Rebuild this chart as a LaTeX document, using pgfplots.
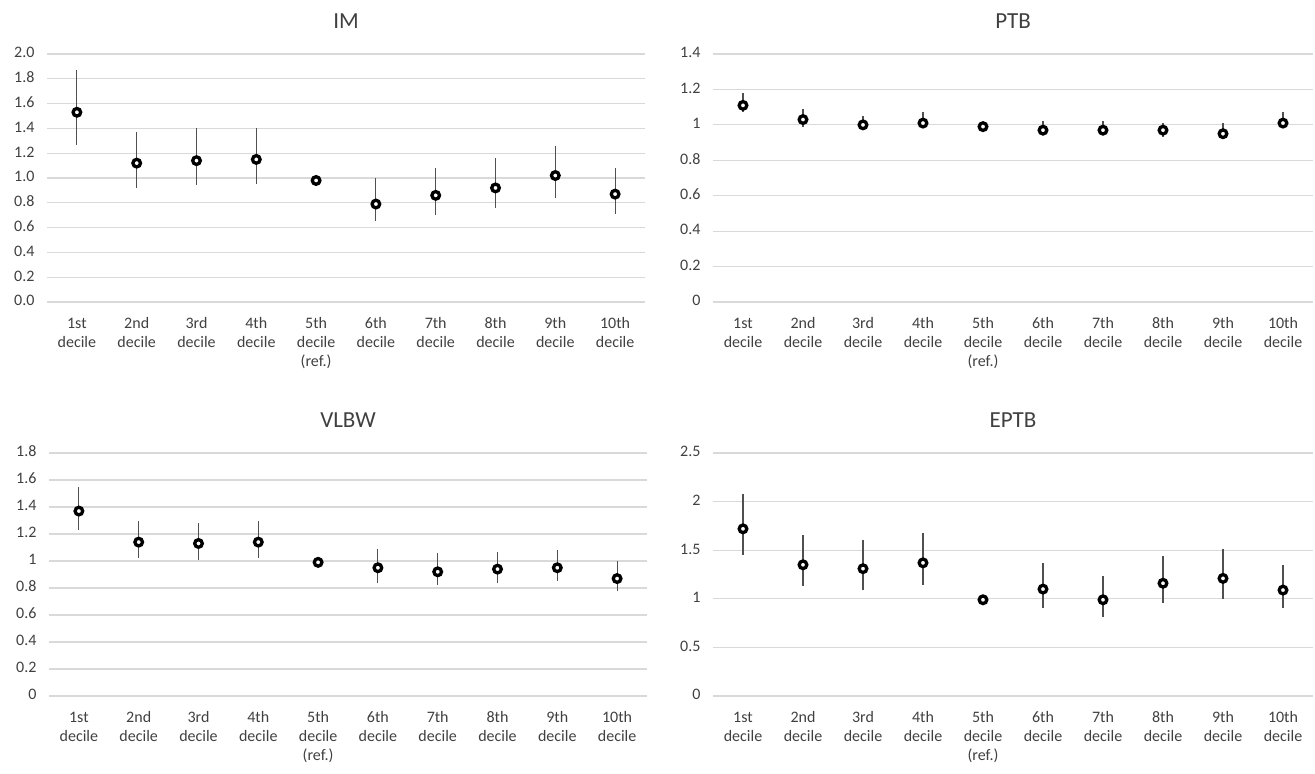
\documentclass[border=0pt]{standalone}
\usepackage{fontspec}
\setmainfont{Carlito}
\usepackage{pgfplots}
\usepackage{pgfplotstable}
\pgfplotsset{compat=1.18}
\definecolor{gridc}{HTML}{D9D9D9}
\definecolor{txt}{HTML}{404040}
\definecolor{errc}{HTML}{505050}

% x = decile, y = estimate, lo/hi = confidence limits
\pgfplotstableread{
x y lo hi
1 1.53 1.27 1.87
2 1.12 0.92 1.37
3 1.14 0.94 1.40
4 1.15 0.95 1.40
5 0.98 0.98 0.98
6 0.79 0.65 1.00
7 0.86 0.70 1.08
8 0.92 0.76 1.16
9 1.02 0.84 1.26
10 0.87 0.71 1.08
}\IMdata
\pgfplotstableread{
x y lo hi
1 1.11 1.07 1.18
2 1.03 0.99 1.09
3 1.00 0.97 1.05
4 1.01 0.98 1.07
5 0.99 0.99 0.99
6 0.97 0.94 1.02
7 0.97 0.94 1.02
8 0.97 0.93 1.01
9 0.95 0.92 1.01
10 1.01 0.98 1.07
}\PTBdata
\pgfplotstableread{
x y lo hi
1 1.37 1.23 1.55
2 1.14 1.02 1.30
3 1.13 1.01 1.28
4 1.14 1.02 1.30
5 0.99 0.99 0.99
6 0.95 0.84 1.09
7 0.92 0.82 1.06
8 0.94 0.84 1.07
9 0.95 0.85 1.08
10 0.87 0.78 1.00
}\VLBWdata
\pgfplotstableread{
x y lo hi
1 1.72 1.45 2.08
2 1.35 1.13 1.66
3 1.31 1.09 1.60
4 1.37 1.14 1.68
5 0.99 0.99 0.99
6 1.10 0.91 1.37
7 0.99 0.81 1.23
8 1.16 0.96 1.44
9 1.21 1.00 1.51
10 1.09 0.91 1.35
}\EPTBdata

\pgfplotsset{
  decstyle/.style={
    scale only axis,
    xmin=0.5, xmax=10.5, ymin=0,
    xtick={1,2,3,4,5,6,7,8,9,10},
    xticklabels={{1st\\decile},{2nd\\decile},{3rd\\decile},{4th\\decile},{5th\\decile\\(ref.)},{6th\\decile},{7th\\decile},{8th\\decile},{9th\\decile},{10th\\decile}},
    typeset ticklabels with strut,
    x tick label style={align=center, font=\fontsize{16}{19}\selectfont, text=txt, yshift=-10pt},
    y tick label style={font=\fontsize{16}{19}\selectfont, text=txt, xshift=-9pt},
    /pgf/number format/assume math mode=true,
    ymajorgrids, grid style={gridc, line width=1.2pt},
    axis line style={draw=none},
    major tick length=0pt,
    title style={font=\fontsize{23}{27}\selectfont, text=txt, at={(0.5,1)}, anchor=base, yshift=20pt},
  },
  decplot/.style={only marks, mark=*, mark size=3.8pt,
    mark options={fill=white, draw=black, line width=3.3pt},
    error bars/.cd, y dir=both, y explicit, error mark=none,
    error bar style={errc, line width=1.1pt}},
}

\begin{document}
\begin{tikzpicture}
\path[use as bounding box] (0,0) rectangle (1315pt,-774pt);

\begin{axis}[decstyle, at={(47pt,-302pt)}, anchor=south west,
  width=598pt, height=248pt, ymax=2.0, title={IM},
  ytick={0,0.2,0.4,0.6,0.8,1.0,1.2,1.4,1.6,1.8,2.0},
  yticklabel style={/pgf/number format/.cd, fixed, fixed zerofill, precision=1}]
\addplot[decplot] table[x=x, y=y, y error plus expr=\thisrow{hi}-\thisrow{y}, y error minus expr=\thisrow{y}-\thisrow{lo}] {\IMdata};
\end{axis}

\begin{axis}[decstyle, at={(713pt,-302pt)}, anchor=south west,
  width=600pt, height=248pt, ymax=1.4, title={PTB},
  ytick={0,0.2,0.4,0.6,0.8,1,1.2,1.4}]
\addplot[decplot] table[x=x, y=y, y error plus expr=\thisrow{hi}-\thisrow{y}, y error minus expr=\thisrow{y}-\thisrow{lo}] {\PTBdata};
\end{axis}

\begin{axis}[decstyle, at={(49pt,-696pt)}, anchor=south west,
  width=598pt, height=243pt, ymax=1.8, title={VLBW},
  ytick={0,0.2,0.4,0.6,0.8,1,1.2,1.4,1.6,1.8}]
\addplot[decplot] table[x=x, y=y, y error plus expr=\thisrow{hi}-\thisrow{y}, y error minus expr=\thisrow{y}-\thisrow{lo}] {\VLBWdata};
\end{axis}

\begin{axis}[decstyle, at={(713pt,-696pt)}, anchor=south west,
  width=600pt, height=243pt, ymax=2.5, title={EPTB},
  ytick={0,0.5,1,1.5,2,2.5}]
\addplot[decplot] table[x=x, y=y, y error plus expr=\thisrow{hi}-\thisrow{y}, y error minus expr=\thisrow{y}-\thisrow{lo}] {\EPTBdata};
\end{axis}
\end{tikzpicture}
\end{document}
